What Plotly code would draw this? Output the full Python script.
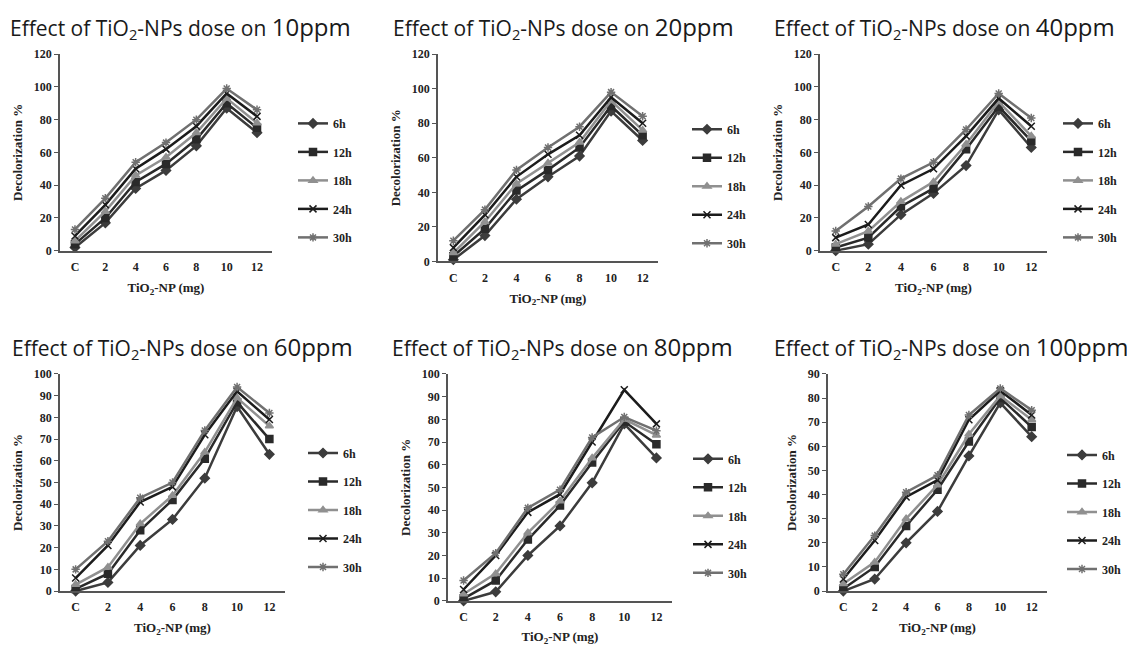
import plotly.graph_objects as go

categories = ["C", "2", "4", "6", "8", "10", "12"]
series_names = ["6h", "12h", "18h", "24h", "30h"]
panel_ppm = ["10", "20", "40", "60", "80", "100"]

# one list per series (6h, 12h, 18h, 24h, 30h) for each dye concentration
ppm10 = [
    [2, 17, 38, 49, 64, 87, 72],
    [4, 20, 42, 53, 68, 90, 75],
    [6, 24, 46, 57, 72, 93, 78],
    [9, 28, 50, 62, 76, 96, 82],
    [13, 32, 54, 66, 80, 99, 86],
]
ppm20 = [
    [1, 15, 36, 49, 61, 87, 70],
    [3, 19, 41, 53, 66, 90, 73],
    [5, 23, 45, 57, 69, 93, 76],
    [8, 27, 49, 62, 73, 95, 80],
    [12, 30, 53, 66, 78, 98, 84],
]
ppm40 = [
    [0, 4, 22, 35, 52, 86, 63],
    [2, 8, 27, 38, 62, 88, 67],
    [4, 12, 30, 42, 65, 91, 70],
    [8, 16, 40, 50, 70, 93, 76],
    [12, 27, 44, 54, 74, 96, 81],
]
ppm60 = [
    [0, 4, 21, 33, 52, 85, 63],
    [1, 8, 28, 42, 61, 87, 70],
    [3, 11, 31, 44, 64, 89, 76],
    [6, 21, 41, 48, 72, 92, 79],
    [10, 23, 43, 50, 74, 94, 82],
]
ppm80 = [
    [0, 4, 20, 33, 52, 78, 63],
    [1, 9, 27, 42, 61, 79, 69],
    [3, 12, 30, 44, 63, 80, 73],
    [5, 20, 39, 47, 70, 93, 78],
    [9, 21, 41, 49, 72, 81, 75],
]
ppm100 = [
    [0, 5, 20, 33, 56, 78, 64],
    [1, 10, 27, 42, 62, 80, 68],
    [3, 12, 30, 44, 65, 81, 71],
    [5, 21, 39, 46, 71, 83, 73],
    [7, 23, 41, 48, 73, 84, 75],
]
panel_data = [ppm10, ppm20, ppm40, ppm60, ppm80, ppm100]
y_max = [120, 120, 120, 100, 100, 90]
y_step = [20, 20, 20, 10, 10, 10]

# the page body keeps an 8px margin, so the figure is 16px smaller than the window
PAD = 8
W, H = 1135 - 2 * PAD, 654 - 2 * PAD


def px(x):
    return (x - PAD) / W


def py(y):
    return 1 - (y - PAD) / H


# plot areas in window pixels: left, right, top, bottom
boxes = [
    (60, 272, 48, 249),
    (438, 658, 48, 260),
    (820, 1047, 48, 249),
    (60, 285, 375, 597),
    (448, 672, 375, 607),
    (828, 1047, 375, 597),
]
title_pos = [(8, 20), (391, 20), (772, 20), (10, 347), (390, 347), (772, 347)]
legend_pos = [(293, 104), (687, 110), (1058, 104), (303, 441), (688, 447), (1062, 443)]

colors = ["#3c3c3c", "#2a2a2a", "#909090", "#1c1c1c", "#707070"]
symbols = ["diamond", "square", "triangle-up", "x-thin-open", "asterisk-open"]

serif = "Liberation Serif"
tfont = dict(family=serif, size=12, color="#222", weight="bold")
afont = dict(family=serif, size=13, color="#222", weight="bold")

fig = go.Figure()
layout = {}

for i, data in enumerate(panel_data):
    n = "" if i == 0 else str(i + 1)
    lg = "legend" + n
    for j, name in enumerate(series_names):
        fig.add_trace(go.Scatter(
            x=categories, y=data[j], name=name, mode="lines+markers",
            xaxis="x" + n, yaxis="y" + n, legend=lg,
            legendgroup=f"p{i}s{j}",
            line=dict(color=colors[j], width=2.5),
            marker=dict(symbol=symbols[j], size=7, color=colors[j],
                        line=dict(color=colors[j], width=1.5)),
            cliponaxis=False,
        ))
    l, r, t, b = boxes[i]
    layout["xaxis" + n] = dict(
        domain=[px(l), px(r)], anchor="y" + n, type="category",
        showline=True, linecolor="#555", linewidth=1.5, ticks="",
        showgrid=False, zeroline=False, ticklabelstandoff=4,
        tickfont=tfont,
        title=dict(text="TiO<sub>2</sub>-NP (mg)", standoff=10, font=afont),
    )
    layout["yaxis" + n] = dict(
        domain=[py(b), py(t)], anchor="x" + n,
        range=[0, y_max[i]], dtick=y_step[i],
        showline=True, linecolor="#555", linewidth=1.5,
        ticks="outside", ticklen=4, tickcolor="#555",
        showgrid=False, zeroline=False,
        tickfont=tfont,
        title=dict(text="Decolorization %", standoff=8, font=afont),
    )
    lx, ly = legend_pos[i]
    layout[lg] = dict(
        x=px(lx), y=py(ly), xanchor="left", yanchor="top",
        traceorder="grouped", tracegroupgap=9.5,
        bgcolor="rgba(0,0,0,0)",
        font=tfont,
    )

annotations = []
for i, ppm in enumerate(panel_ppm):
    tx, ty = title_pos[i]
    annotations.append(dict(
        text=(f"Effect of TiO<sub>2</sub>-NPs dose on "
              f'<span style="font-size:24px">{ppm}ppm</span>'),
        x=px(tx), y=py(ty), xref="paper", yref="paper",
        xanchor="left", yanchor="middle", showarrow=False,
        font=dict(family="Open Sans", size=21, color="#1a1a1a"),
    ))

fig.update_layout(
    width=W, height=H,
    margin=dict(l=0, r=0, t=0, b=0),
    paper_bgcolor="white", plot_bgcolor="white",
    annotations=annotations,
    **layout,
)

fig.write_html("out.html")
